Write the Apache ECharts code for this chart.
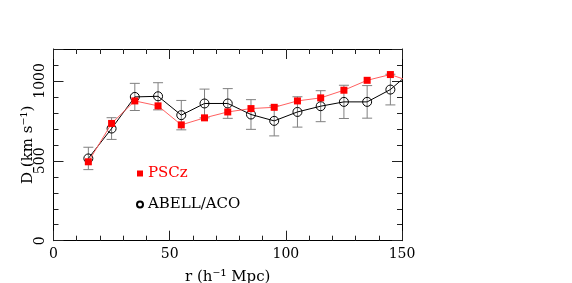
<!DOCTYPE html>
<html>
<head>
<meta charset="utf-8">
<script src="https://cdn.jsdelivr.net/npm/echarts@6/dist/echarts.min.js"></script>
<style>
html,body{margin:0;padding:0;background:#fff;}
#chart{width:572px;height:283px;}
</style>
</head>
<body>
<div id="chart"></div>
<script>
const radius = [15, 25, 35, 45, 55, 65, 75, 85, 95, 105, 115, 125, 135, 145, 155];
const psczValues = [494, 734, 875, 844, 725, 769, 806, 827, 835, 875, 894, 942, 1004, 1040, 990];
const abellValues = [515, 702, 900, 904, 786, 859, 859, 790, 750, 806, 842, 869, 869, 946, 1072];
const abellErrors = [70, 68, 85, 85, 92, 90, 93, 93, 94, 95, 97, 104, 102, 96, 100];
const xTickLabels = ['0', '50', '100', '150'];
const yTickLabels = ['0', '500', '1000'];

const FONT = 'DejaVu Serif';
const psczData = radius.map((r, i) => [r, psczValues[i]]);
const abellData = radius.map((r, i) => [r, abellValues[i]]);
const errData = radius.map((r, i) => [r, abellValues[i] - abellErrors[i], abellValues[i] + abellErrors[i]]);

const chart = echarts.init(document.getElementById('chart'), null, {renderer: 'canvas'});
const tickLine = {color: '#222', width: 1};
const axLine = {show: true, onZero: false, lineStyle: {color: '#000', width: 1}};
const MAJOR = 10, MINOR = 5;
const gridBox = {left: 53.5, right: 170, top: 49, bottom: 42.3, containLabel: false, outerBoundsMode: 'none'};
const minorTick = {show: true, splitNumber: 5, length: MINOR, lineStyle: tickLine};
chart.setOption({
  animation: false,
  backgroundColor: '#fff',
  grid: [Object.assign({}, gridBox), Object.assign({}, gridBox)],
  legend: {
    orient: 'vertical', left: 131, top: 161, itemGap: 16,
    itemWidth: 6, itemHeight: 6, selectedMode: false,
    textStyle: {fontFamily: FONT, fontSize: 15, padding: [0, 0, 7, 0]},
    data: [
      {name: 'PSCz', icon: 'rect', textStyle: {color: '#ff0000'}},
      {name: 'ABELL/ACO', icon: 'circle', textStyle: {color: '#000'}}
    ]
  },
  xAxis: [{
    gridIndex: 0, type: 'value', min: 0, max: 150, interval: 50, position: 'bottom',
    name: 'r (h⁻¹ Mpc)', nameLocation: 'middle', nameGap: 29, nameMoveOverlap: false,
    nameTextStyle: {fontFamily: FONT, fontSize: 15, color: '#000'},
    axisLine: axLine,
    axisTick: {show: true, inside: true, length: MAJOR, lineStyle: tickLine},
    minorTick: minorTick,
    axisLabel: {fontFamily: FONT, fontSize: 14, color: '#000', margin: 7,
      formatter: v => xTickLabels.includes(String(v)) ? String(v) : ''},
    splitLine: {show: false}, minorSplitLine: {show: false}
  }, {
    gridIndex: 0, type: 'value', min: 0, max: 150, interval: 50, position: 'top',
    axisLine: axLine,
    axisTick: {show: true, inside: true, length: MAJOR, lineStyle: tickLine},
    minorTick: minorTick,
    axisLabel: {show: false}, splitLine: {show: false}, minorSplitLine: {show: false}
  }, {
    gridIndex: 1, type: 'value', min: 0, max: 150, show: false
  }],
  yAxis: [{
    gridIndex: 0, type: 'value', min: 0, max: 1200, interval: 100, position: 'left',
    axisLine: axLine,
    axisTick: {show: true, inside: true, length: MINOR, lineStyle: tickLine},
    axisLabel: {show: false}, splitLine: {show: false}
  }, {
    gridIndex: 0, type: 'value', min: 0, max: 1200, interval: 100, position: 'right',
    axisLine: axLine,
    axisTick: {show: true, inside: true, length: MINOR, lineStyle: tickLine},
    axisLabel: {show: false}, splitLine: {show: false}
  }, {
    gridIndex: 1, type: 'value', min: 0, max: 1200, interval: 500, position: 'left',
    name: 'D (km s⁻¹)', nameLocation: 'middle', nameGap: 18, nameMoveOverlap: false,
    nameTextStyle: {fontFamily: FONT, fontSize: 15, color: '#000'},
    axisLine: {show: false, onZero: false},
    axisTick: {show: true, inside: true, length: MAJOR, lineStyle: tickLine},
    axisLabel: {fontFamily: FONT, fontSize: 14, color: '#000', rotate: 90, margin: 6,
      formatter: v => yTickLabels.includes(String(v)) ? String(v) : ''},
    splitLine: {show: false}
  }, {
    gridIndex: 1, type: 'value', min: 0, max: 1200, interval: 500, position: 'right',
    axisLine: {show: false, onZero: false},
    axisTick: {show: true, inside: true, length: MAJOR, lineStyle: tickLine},
    axisLabel: {show: false}, splitLine: {show: false}
  }],
  series: [{
    type: 'custom', name: 'err', clip: true, z: 1, xAxisIndex: 0, yAxisIndex: 0,
    data: errData,
    renderItem: function (params, api) {
      const x = api.value(0);
      const lo = api.coord([x, api.value(1)]);
      const hi = api.coord([x, api.value(2)]);
      const hw = 5;
      const st = {stroke: '#808080', lineWidth: 1};
      return {type: 'group', children: [
        {type: 'line', shape: {x1: lo[0], y1: lo[1], x2: hi[0], y2: hi[1]}, style: st},
        {type: 'line', shape: {x1: lo[0] - hw, y1: lo[1], x2: lo[0] + hw, y2: lo[1]}, style: st},
        {type: 'line', shape: {x1: hi[0] - hw, y1: hi[1], x2: hi[0] + hw, y2: hi[1]}, style: st}
      ]};
    }
  }, {
    type: 'line', name: 'ABELL/ACO', data: abellData, clip: true, z: 2, xAxisIndex: 0, yAxisIndex: 0,
    symbol: 'circle', symbolSize: 9,
    lineStyle: {color: '#000', width: 1},
    itemStyle: {color: 'rgba(255,255,255,0)', borderColor: '#000', borderWidth: 1}
  }, {
    type: 'line', name: 'PSCz', data: psczData, clip: true, z: 3, xAxisIndex: 0, yAxisIndex: 0,
    symbol: 'rect', symbolSize: 7,
    lineStyle: {color: '#ff6060', width: 1},
    itemStyle: {color: '#ff0000', borderWidth: 0}
  }]
});
</script>
</body>
</html>
